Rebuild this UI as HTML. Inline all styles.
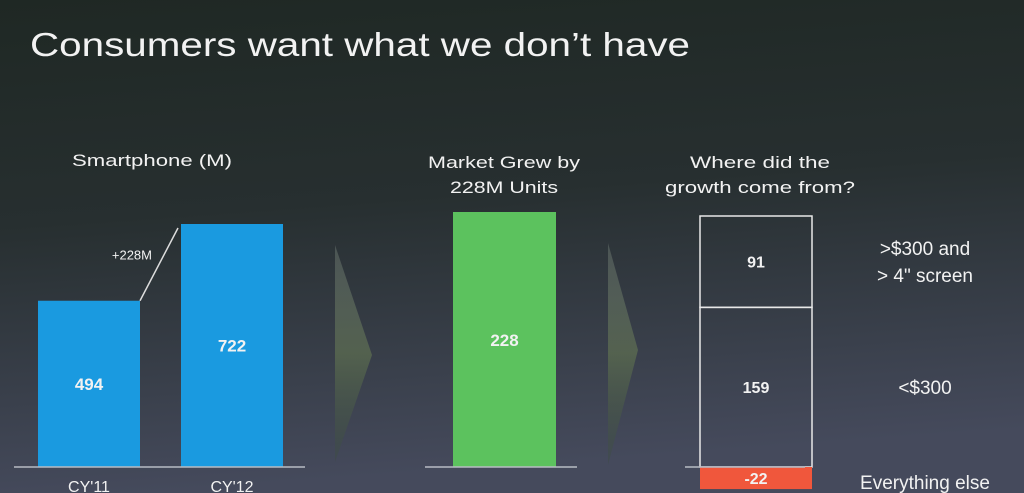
<!DOCTYPE html>
<html><head><meta charset="utf-8">
<style>
html,body{margin:0;padding:0;width:1024px;height:493px;overflow:hidden;background:#25302c}
svg text{font-family:"Liberation Sans",sans-serif;fill:#f2f2f2}
</style></head>
<body>
<svg id="chart" width="1024" height="493" viewBox="0 0 1024 493" xmlns="http://www.w3.org/2000/svg">
<defs>
<linearGradient id="bg" x1="0" y1="0" x2="0.15" y2="1">
<stop offset="0" stop-color="#1f2824"/><stop offset="0.45" stop-color="#272f30"/><stop offset="1" stop-color="#454a5c"/>
</linearGradient>
<linearGradient id="arr" x1="0" y1="0" x2="0" y2="1">
<stop offset="0" stop-color="#6a7570" stop-opacity="0.5"/><stop offset="0.5" stop-color="#5a6a50" stop-opacity="0.8"/><stop offset="1" stop-color="#3a4a40" stop-opacity="0.4"/>
</linearGradient>
</defs>
<rect width="1024" height="493" fill="url(#bg)"/>
<text x="30" y="56" font-size="33" textLength="660" lengthAdjust="spacingAndGlyphs">Consumers want what we don’t have</text>
<text x="72" y="166" font-size="17" textLength="160" lengthAdjust="spacingAndGlyphs">Smartphone (M)</text>
<text x="504" y="168" font-size="17" text-anchor="middle" textLength="152" lengthAdjust="spacingAndGlyphs">Market Grew by</text>
<text x="504" y="193" font-size="17" text-anchor="middle" textLength="108" lengthAdjust="spacingAndGlyphs">228M Units</text>
<text x="760" y="168" font-size="17" text-anchor="middle" textLength="140" lengthAdjust="spacingAndGlyphs">Where did the</text>
<text x="760" y="193" font-size="17" text-anchor="middle" textLength="190" lengthAdjust="spacingAndGlyphs">growth come from?</text>
<polygon points="335,245 372,355 335,462" fill="url(#arr)"/>
<polygon points="608,243 638,350 608,465" fill="url(#arr)"/>
<g id="marks"></g>
</svg>
<script>
const years = ["CY'11", "CY'12"];
const units = [494, 722];
const growth = [228];
const segLabels = [">$300 and|> 4\" screen", "<$300", "Everything else"];
const segValues = [91, 159, -22];

const NS = "http://www.w3.org/2000/svg";
const g = document.getElementById('marks');
const base = 467;
function el(tag, attrs, text){const e=document.createElementNS(NS,tag);for(const k in attrs)e.setAttribute(k,attrs[k]);if(text!==undefined)e.textContent=text;g.appendChild(e);return e;}
const yLeft = v => base - v * (243/722);
const yMid = v => base - v * (255/228);
const yRight = v => base - v * (251/250);

// left chart
const lx = [38, 181], bw = 102;
units.forEach((v,i)=>{
  const r = el('rect',{x:lx[i],y:yLeft(v),width:bw,height:base-yLeft(v),fill:'#1a9ae0'});
  
  
  const t = el('text',{x:lx[i]+bw/2,y:(yLeft(v)+base)/2+6,'font-size':17,'font-weight':'bold','text-anchor':'middle'},String(v));
  
  
  const c = el('text',{x:lx[i]+bw/2,y:base+25,'font-size':16,'text-anchor':'middle'},years[i]);
  
  
});
const ln = el('line',{x1:lx[0]+bw,y1:yLeft(units[0]),x2:lx[1]-3,y2:yLeft(units[1])+4,stroke:'#ddd','stroke-width':1.5});


const gl = el('text',{x:152,y:(yLeft(units[0])+yLeft(units[1]))/2-3,'font-size':13,'text-anchor':'end'},'+' + (units[1]-units[0]) + 'M');


const b1 = el('line',{x1:14,y1:base,x2:305,y2:base,stroke:'#b8bcc4','stroke-width':1.5});



// middle bar
const gr = el('rect',{x:453,y:yMid(growth[0]),width:103,height:base-yMid(growth[0]),fill:'#5cc25e'});


const gt = el('text',{x:504.5,y:346,'font-size':17,'font-weight':'bold','text-anchor':'middle'},String(growth[0]));


const b2 = el('line',{x1:425,y1:base,x2:577,y2:base,stroke:'#b8bcc4','stroke-width':1.5});



// right stack
let cum = 0;
const order = [1,0,2];
order.forEach(i=>{
  const v = segValues[i];
  let y0, y1;
  if (v >= 0) { y0 = yRight(cum); y1 = yRight(cum+v); cum += v; }
  else { y0 = yRight(v); y1 = base; }
  const top = Math.min(y0,y1), h = Math.abs(y0-y1);
  const r = el('rect', v>=0 ? {x:700,y:top,width:112,height:h,fill:'none',stroke:'#e8e8e8','stroke-width':1.5} : {x:700,y:top,width:112,height:h,fill:'#f0573c'});
  
  
  const t = el('text',{x:756,y:top+h/2+6,'font-size':v<0?16:16,'font-weight':'bold','text-anchor':'middle'},String(v));
  
  
  const lines = segLabels[i].split('|');
  lines.forEach((s,k)=>{
    const cy = top + h/2 + 7 + (k - (lines.length-1)/2) * 27;
    const lt = el('text',{x:925,y:v<0?base+22:cy,'font-size':19,'text-anchor':'middle'},s);
    
    
  });
});
const b3 = el('line',{x1:685,y1:base,x2:805,y2:base,stroke:'#b8bcc4','stroke-width':1.5});


</script>
</body></html>
